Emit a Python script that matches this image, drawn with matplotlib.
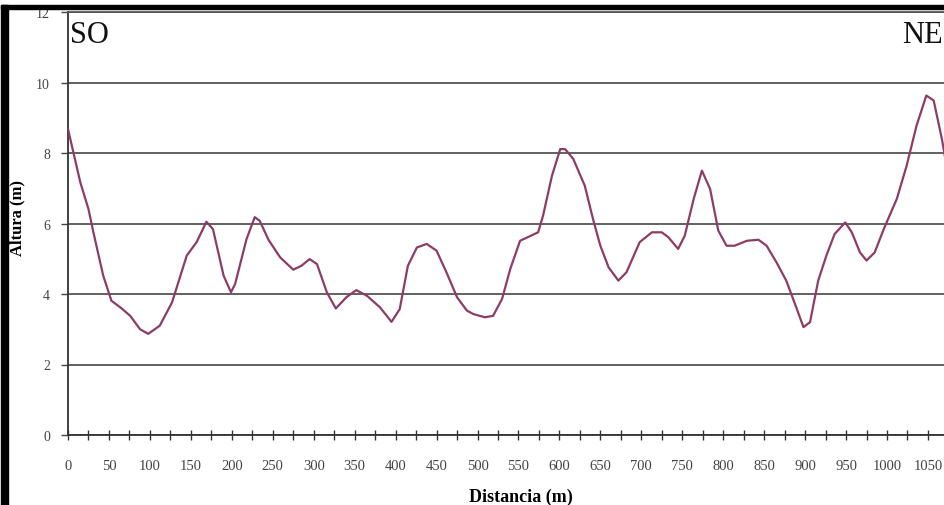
import matplotlib
matplotlib.use("Agg")
import matplotlib.pyplot as plt
from matplotlib.patches import Rectangle
from matplotlib.ticker import MultipleLocator

# Data
distancia = [0, 15, 25, 31, 43, 53, 65, 76, 88, 98, 112, 127, 145, 157, 169, 177, 190, 199, 204,
             218, 228, 234, 245, 259, 275, 285, 295, 304, 316, 327, 340, 352, 365, 381, 395, 405,
             415, 426, 438, 450, 462, 475, 487, 495, 509, 519, 530, 540, 552, 564, 574, 580, 591,
             601, 607, 617, 631, 641, 650, 660, 672, 682, 698, 713, 725, 733, 745, 753, 764, 774,
             784, 794, 804, 814, 829, 843, 853, 865, 877, 890, 898, 906, 916, 926, 936, 949, 957,
             967, 975, 985, 996, 1012, 1024, 1036, 1048, 1057, 1067, 1072]
altura = [8.68, 7.17, 6.41, 5.75, 4.52, 3.81, 3.60, 3.38, 3.00, 2.87, 3.10, 3.76, 5.09, 5.47,
          6.05, 5.84, 4.52, 4.05, 4.28, 5.56, 6.18, 6.08, 5.53, 5.04, 4.69, 4.80, 4.99, 4.85,
          4.05, 3.59, 3.91, 4.11, 3.95, 3.62, 3.21, 3.57, 4.80, 5.32, 5.42, 5.23, 4.62, 3.91,
          3.53, 3.43, 3.34, 3.38, 3.86, 4.71, 5.51, 5.64, 5.75, 6.22, 7.36, 8.11, 8.11, 7.83,
          7.07, 6.13, 5.37, 4.76, 4.38, 4.62, 5.47, 5.75, 5.75, 5.61, 5.28, 5.65, 6.70, 7.50,
          6.98, 5.80, 5.37, 5.37, 5.51, 5.54, 5.37, 4.90, 4.38, 3.57, 3.06, 3.20, 4.38, 5.09,
          5.70, 6.03, 5.75, 5.18, 4.95, 5.18, 5.84, 6.70, 7.64, 8.77, 9.63, 9.49, 8.40, 7.74]
x_ticks = list(range(0, 1051, 50))
y_ticks = [0, 2, 4, 6, 8, 10, 12]

W, H = 944, 506
fig = plt.figure(figsize=(W / 100, H / 100), dpi=100)
fig.patch.set_facecolor("white")

left_px, right_px, top_px, bottom_px = 68, 974, 13, 436
ax = fig.add_axes([left_px / W, (H - bottom_px) / H,
                   (right_px - left_px) / W, (bottom_px - top_px) / H])
ax.set_xlim(0, (right_px - left_px) / 0.819)
ax.set_ylim(0, 12)

ax.plot(distancia, altura, color="#8E3B66", lw=1.6, solid_joinstyle="round",
        solid_capstyle="round", zorder=3)

serif = ["Liberation Serif", "DejaVu Serif"]
ax.set_yticks(y_ticks)
ax.set_xticks(x_ticks)
ax.xaxis.set_minor_locator(MultipleLocator(25))
ax.tick_params(axis="y", direction="out", length=5, width=1.0, color="#444444",
               pad=8, labelsize=10, labelcolor="#444444")
ax.tick_params(axis="x", which="both", direction="inout", length=7, width=1.0,
               color="#333333", pad=14, labelsize=10.5, labelcolor="#444444")
for lab in ax.get_xticklabels() + ax.get_yticklabels():
    lab.set_family(serif)

ax.grid(axis="y", color="#555555", lw=1.3)
ax.set_axisbelow(True)
ax.spines["right"].set_visible(False)
ax.spines["top"].set_color("#555555")
ax.spines["top"].set_linewidth(1.3)
for s in ["left", "bottom"]:
    ax.spines[s].set_color("#333333")
    ax.spines[s].set_linewidth(1.3)

fig.text(521 / W, 1 - 497 / H, "Distancia (m)", ha="center", va="center",
         fontsize=13, fontweight="bold", family=serif)
fig.text(17 / W, 1 - 218 / H, "Altura (m)", ha="center", va="center", rotation=90,
         fontsize=12, fontweight="bold", family=serif)

fig.text(70 / W, 1 - 43 / H, "SO", ha="left", va="baseline", fontsize=22,
         family=serif, color="#111111")
fig.text(943 / W, 1 - 43 / H, "NE", ha="right", va="baseline", fontsize=22,
         family=serif, color="#111111")

# black frame (left and top bars)
fig.patches.append(Rectangle((1 / W, 0), 7 / W, 1 - 6 / H, transform=fig.transFigure,
                             color="black", zorder=10))
fig.patches.append(Rectangle((1 / W, 1 - 10 / H), 1, 4 / H, transform=fig.transFigure,
                             color="black", zorder=10))

fig.savefig("out.png", dpi=100, facecolor="white")
